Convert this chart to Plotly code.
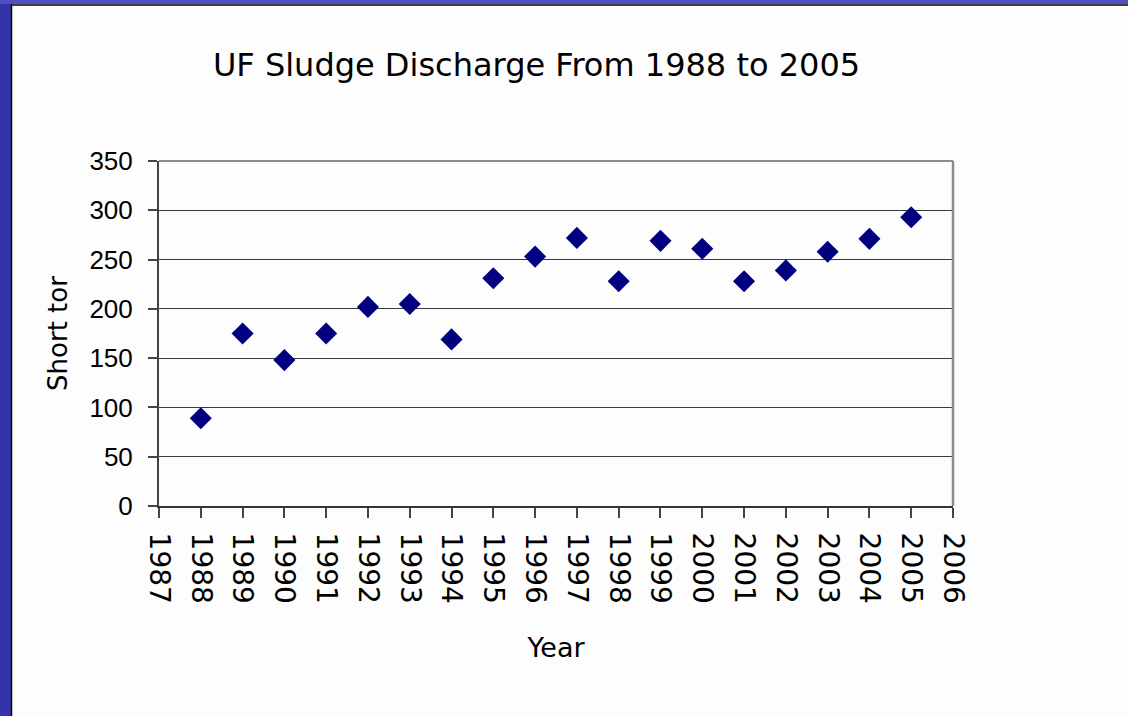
import plotly.graph_objects as go

# ---- data ----
years = [1988, 1989, 1990, 1991, 1992, 1993, 1994, 1995, 1996,
         1997, 1998, 1999, 2000, 2001, 2002, 2003, 2004, 2005]
short_tons = [89, 175, 148, 175, 202, 205, 169, 231, 253,
              272, 228, 269, 261, 228, 239, 258, 271, 293]
x_ticks = list(range(1987, 2007))
y_ticks = [0, 50, 100, 150, 200, 250, 300, 350]

W, H = 1128, 716
L, R, T, B = 159, 953, 161, 506  # plot area pixel edges


def px_x(p):
    return (p - L) / (R - L)


def px_y(p):
    return (B - p) / (B - T)


fig = go.Figure()
fig.add_trace(go.Scatter(
    x=years, y=short_tons, mode="markers",
    marker=dict(symbol="diamond", size=17, color="#000080",
                line=dict(width=0)),
    showlegend=False,
))

shapes = [
    # slide decoration: left and top blue strips
    dict(type="rect", xref="paper", yref="paper", layer="below",
         x0=px_x(0), x1=px_x(11), y0=px_y(H), y1=px_y(0),
         fillcolor="#3434a8", line=dict(width=0)),
    dict(type="rect", xref="paper", yref="paper", layer="below",
         x0=px_x(0), x1=px_x(W), y0=px_y(4), y1=px_y(0),
         fillcolor="#5050c0", line=dict(width=0)),
    dict(type="line", xref="paper", yref="paper",
         x0=px_x(11.5), x1=px_x(11.5), y0=px_y(H), y1=px_y(4.5),
         line=dict(color="#000000", width=1.5)),
    dict(type="line", xref="paper", yref="paper",
         x0=px_x(11), x1=px_x(W), y0=px_y(5), y1=px_y(5),
         line=dict(color="#000000", width=1.5)),
    # plot frame (top & right in gray)
    dict(type="line", xref="paper", yref="paper",
         x0=0, x1=1, y0=1, y1=1, line=dict(color="#8c8c8c", width=2)),
    dict(type="line", xref="paper", yref="paper",
         x0=1, x1=1, y0=0, y1=1, line=dict(color="#8c8c8c", width=2.5)),
]

fig.update_layout(
    width=W, height=H,
    margin=dict(l=L, r=W - R, t=T, b=H - B),
    paper_bgcolor="#fdfdfd", plot_bgcolor="#fdfdfd",
    title=dict(text="UF Sludge Discharge From 1988 to 2005",
               font=dict(family="DejaVu Sans", size=32, color="#000000"),
               x=px_x(536.5), xref="paper", xanchor="center",
               y=1 - 65 / H, yref="container", yanchor="middle"),
    shapes=shapes,
    xaxis=dict(
        range=[1987, 2006], tickvals=x_ticks, ticktext=[str(v) for v in x_ticks],
        tickangle=90, ticks="outside", ticklen=10, tickcolor="#444444",
        tickwidth=1.5, ticklabelstandoff=9,
        tickfont=dict(family="DejaVu Sans", size=28, color="#000000"),
        showline=True, linecolor="#333333", linewidth=2,
        showgrid=False, zeroline=False,
        title=dict(text="Year", standoff=35,
                   font=dict(family="DejaVu Sans", size=27, color="#000000")),
    ),
    yaxis=dict(
        range=[0, 350], tickvals=y_ticks,
        ticks="outside", ticklen=9, tickcolor="#444444", tickwidth=1.5,
        ticklabelstandoff=10,
        tickfont=dict(family="Liberation Sans", size=26, color="#000000"),
        showline=True, linecolor="#444444", linewidth=2,
        showgrid=True, gridcolor="#3a3a3a", gridwidth=1.2,
        zeroline=False,
        title=dict(text="Short tor", standoff=14,
                   font=dict(family="DejaVu Sans", size=26, color="#000000")),
    ),
)

fig.write_html(
    "out.html",
    config={"displayModeBar": False},
    post_script="document.body.style.margin='0px';"
                "document.body.style.overflow='hidden';",
)
